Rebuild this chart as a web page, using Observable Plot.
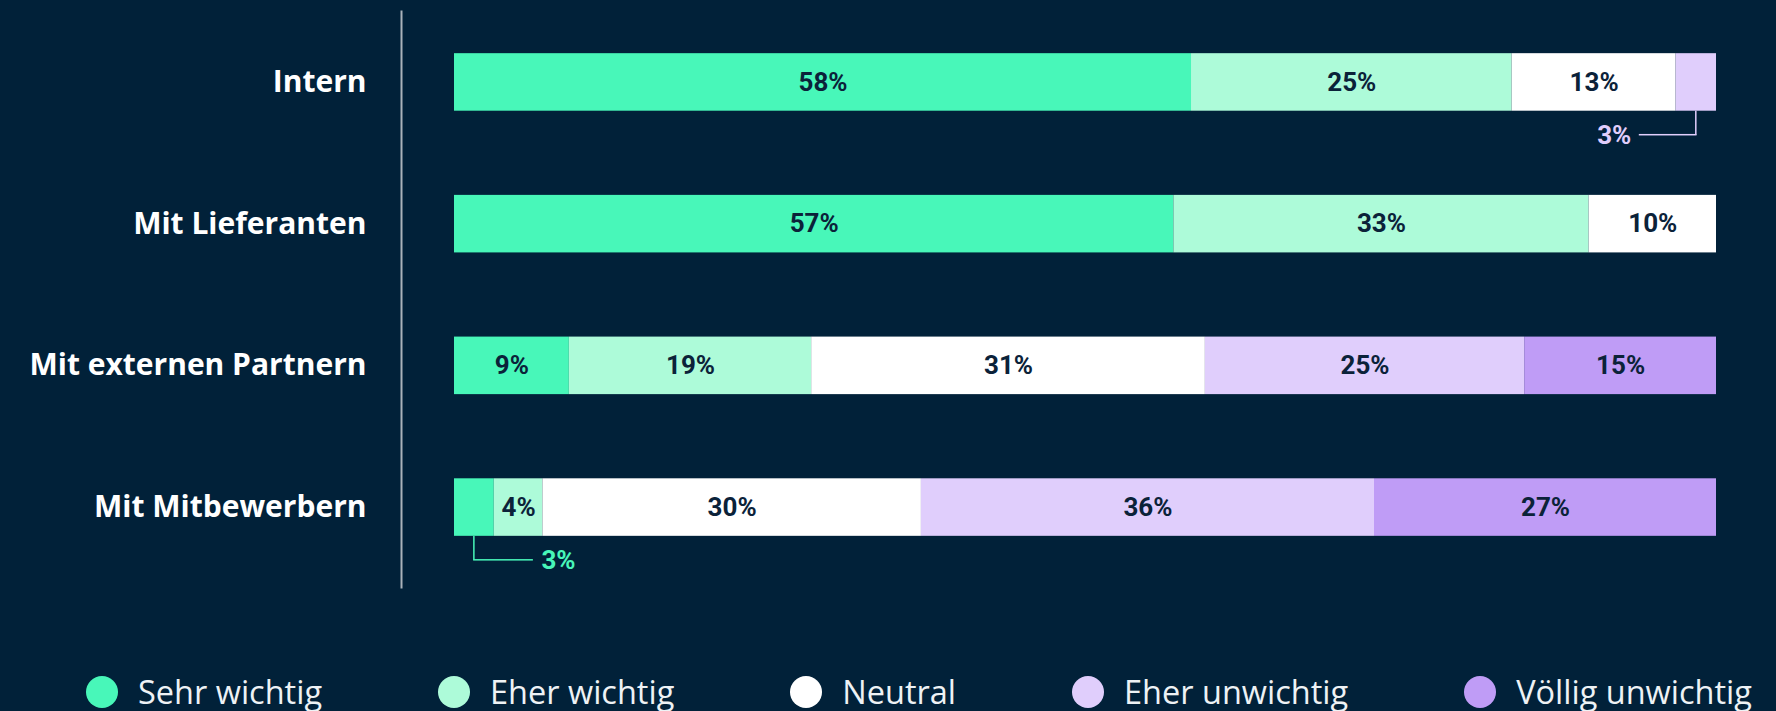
<!DOCTYPE html>
<html>
<head>
<meta charset="utf-8">
<script src="https://cdn.jsdelivr.net/npm/d3@7"></script>
<script src="https://cdn.jsdelivr.net/npm/@observablehq/plot@0.6"></script>
<style>
html, body { margin: 0; padding: 0; background: #012139; width: 1776px; height: 711px; overflow: hidden; }
#chart svg { display: block; }
g[aria-label="y-axis tick label"] { font-weight: 700; font-size: 30px; font-family: "Open Sans", sans-serif; }
#legend { display: flex; justify-content: space-between; align-items: center; height: 39px; padding: 0 24px 0 86px; font-family: "Open Sans", sans-serif; font-size: 32.5px; color: #eef2f5; box-sizing: border-box; width: 1776px; }
.item { display: flex; align-items: center; white-space: nowrap; }
.sw { width: 32px; height: 32px; border-radius: 50%; margin-right: 20px; flex: none; }
</style>
</head>
<body>
<div id="chart"></div>
<div id="legend"></div>
<script>
// ---- data ----
const categories = ["Intern", "Mit Lieferanten", "Mit externen Partnern", "Mit Mitbewerbern"];
const levels = ["Sehr wichtig", "Eher wichtig", "Neutral", "Eher unwichtig", "Völlig unwichtig"];
const colors = ["#48f7b9", "#adfbd9", "#ffffff", "#e0cefc", "#bf9cf6"];

// segment widths (share of bar, %)
const sehrWichtig      = [58.4, 57.0, 9.1, 3.15];
const eherWichtig      = [25.4, 32.9, 19.2, 3.85];
const neutral          = [13.0, 10.1, 31.2, 30.0];
const eherUnwichtig    = [3.2, 0, 25.3, 35.9];
const voelligUnwichtig = [0, 0, 15.2, 27.1];

// printed labels (%)
const sehrWichtigLabels      = [58, 57, 9, 3];
const eherWichtigLabels      = [25, 33, 19, 4];
const neutralLabels          = [13, 10, 31, 30];
const eherUnwichtigLabels    = [3, null, 25, 36];
const voelligUnwichtigLabels = [null, null, 15, 27];

const series = [sehrWichtig, eherWichtig, neutral, eherUnwichtig, voelligUnwichtig];
const seriesLabels = [sehrWichtigLabels, eherWichtigLabels, neutralLabels, eherUnwichtigLabels, voelligUnwichtigLabels];

// ---- table ----
const rows = [];
categories.forEach((cat, i) => {
  let acc = 0;
  levels.forEach((level, j) => {
    const value = series[j][i];
    const lab = seriesLabels[j][i];
    rows.push({
      cat, level, value,
      label: lab == null ? null : lab + "%",
      start: acc,
      mid: acc + value / 2,
      inside: value >= 3.5
    });
    acc += value;
  });
});
const callouts = rows.filter(d => d.value > 0 && !d.inside && d.label);
const leftC = callouts.filter(d => d.mid > 50);
const rightC = callouts.filter(d => d.mid <= 50);

// ---- layout ----
const W = 1776, H = 672, mT = 39, mB = 122, mL = 454, mR = 60;
const padIn = 0.594, padOut = 0.1;
const step = (H - mT - mB) / (categories.length - padIn + 2 * padOut);
const BW = step * (1 - padIn);
const drop = 24, armL = 57, armR = 59, gap = 8;

const chart = Plot.plot({
  width: W, height: H,
  marginTop: mT, marginBottom: mB, marginLeft: mL, marginRight: mR,
  style: { background: "transparent", color: "#ffffff", fontFamily: "Roboto, sans-serif" },
  x: { domain: [0, 100], axis: null },
  y: { domain: categories, paddingInner: padIn, paddingOuter: padOut, round: false, axis: null, label: null },
  color: { domain: levels, range: colors },
  marks: [
    Plot.frame({ anchor: "left", stroke: "#aab2ba", strokeWidth: 2, insetLeft: -53, insetTop: -28, insetBottom: -37 }),
    Plot.axisY({ tickSize: 0, tickPadding: 88, fontSize: 30, fontWeight: 700, label: null }),
    Plot.barX(rows, { x: "value", y: "cat", fill: "level" }),
    Plot.text(rows, Plot.stackX({
      x: "value", y: "cat",
      text: d => d.inside ? d.label : null,
      fill: "#0b2239", fontSize: 26, fontWeight: 700
    })),
    // callout: vertical leg
    Plot.barX(callouts, { x1: "mid", x2: "mid", y: "cat", fill: "level", insetLeft: -0.75, insetRight: -0.75, insetTop: BW, insetBottom: -drop }),
    // callout: horizontal arm (left / right)
    Plot.barX(leftC, { x1: "mid", x2: "mid", y: "cat", fill: "level", insetLeft: -armL, insetRight: -0.75, insetTop: BW + drop - 0.75, insetBottom: -drop - 0.75 }),
    Plot.barX(rightC, { x1: "mid", x2: "mid", y: "cat", fill: "level", insetLeft: -0.75, insetRight: -armR, insetTop: BW + drop - 0.75, insetBottom: -drop - 0.75 }),
    Plot.text(leftC, { x: "mid", y: "cat", text: "label", fill: "level", dy: BW / 2 + drop, dx: -(armL + gap), textAnchor: "end", fontSize: 26, fontWeight: 700 }),
    Plot.text(rightC, { x: "mid", y: "cat", text: "label", fill: "level", dy: BW / 2 + drop, dx: armR + gap, textAnchor: "start", fontSize: 26, fontWeight: 700 })
  ]
});
document.getElementById("chart").appendChild(chart);

// ---- legend ----
const legend = document.getElementById("legend");
levels.forEach((l, i) => {
  const it = document.createElement("div");
  it.className = "item";
  const sw = document.createElement("span");
  sw.className = "sw";
  sw.style.background = colors[i];
  const tx = document.createElement("span");
  tx.textContent = l;
  it.appendChild(sw);
  it.appendChild(tx);
  legend.appendChild(it);
});
</script>
</body>
</html>
